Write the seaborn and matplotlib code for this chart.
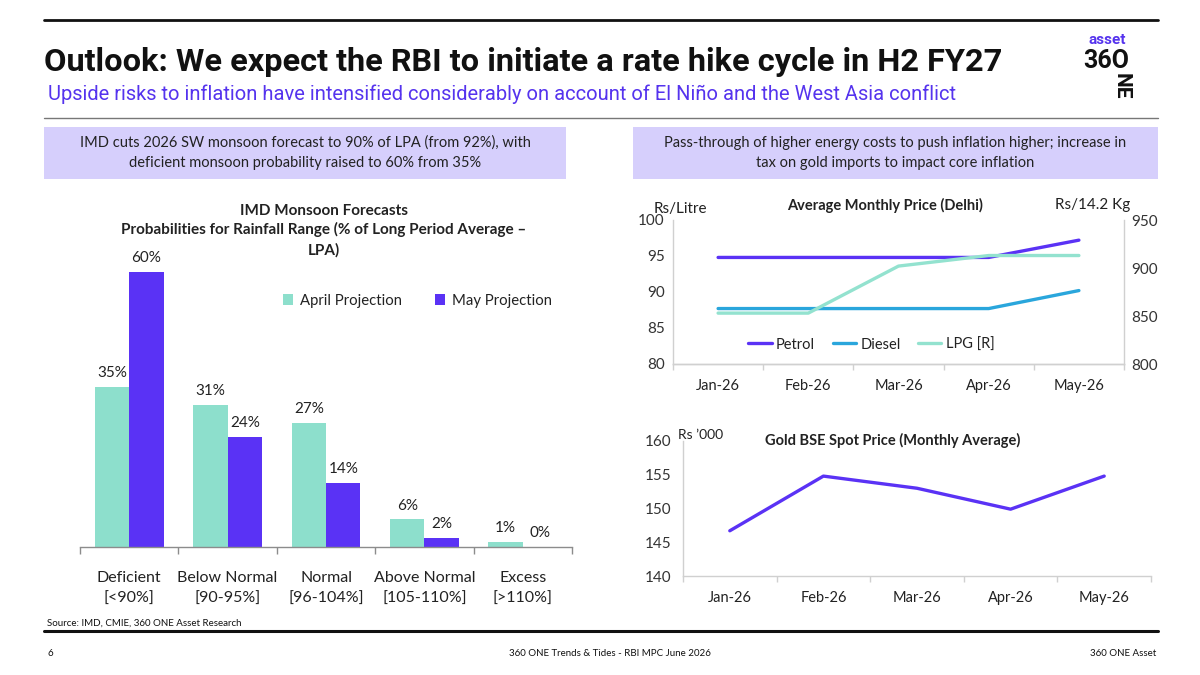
import matplotlib
matplotlib.use("Agg")
import matplotlib.pyplot as plt
from matplotlib.lines import Line2D
from matplotlib.patches import Rectangle, Patch
from matplotlib.ticker import FixedLocator, NullFormatter
import seaborn as sns
import pandas as pd

# ---------------- data ----------------
categories = ["Deficient\n[<90%]", "Below Normal\n[90-95%]", "Normal\n[96-104%]",
              "Above Normal\n[105-110%]", "Excess\n[>110%]"]
april_proj = [35, 31, 27, 6, 1]
may_proj = [60, 24, 14, 2, 0]

months = ["Jan-26", "Feb-26", "Mar-26", "Apr-26", "May-26"]
petrol = [94.8, 94.8, 94.8, 94.8, 97.2]
diesel = [87.7, 87.7, 87.7, 87.7, 90.2]
lpg = [853, 853, 902, 913, 913]
gold = [146.7, 154.8, 153.0, 149.9, 154.8]

# ---------------- style ----------------
sns.set_theme(style="white")
plt.rcParams["font.family"] = ["Lato", "DejaVu Sans"]

TEAL = "#8ddfcc"
PURPLE = "#5a32f5"
BLUE = "#2aa6dc"
MINT = "#93e2cf"
GRID = "#d0d0d0"
TXT = "#222222"
BOX = "#d6cffc"

W, H = 1200, 675
fig = plt.figure(figsize=(12, 6.75), dpi=100)
fig.patch.set_facecolor("white")


def fx(x):
    return x / W


def fy(y):
    return 1 - y / H


def ax_px(l, t, r, b):
    return fig.add_axes([l / W, 1 - b / H, (r - l) / W, (b - t) / H])


def hline(y, x0, x1, color, lw):
    fig.add_artist(Line2D([fx(x0), fx(x1)], [fy(y), fy(y)], color=color, lw=lw,
                          transform=fig.transFigure))


# ---------------- header ----------------
hline(20, 44, 1158, "#111111", 2.0)
fig.text(fx(44), fy(62), "Outlook: We expect the RBI to initiate a rate hike cycle in H2 FY27",
         fontsize=23.4, fontweight="bold", family=["Roboto", "DejaVu Sans"], color="#111111",
         va="center", ha="left")
fig.text(fx(48), fy(94), "Upside risks to inflation have intensified considerably on account of El Niño and the West Asia conflict",
         fontsize=14.5, family=["Roboto", "DejaVu Sans"], color="#5533ee", va="center", ha="left")
hline(118, 44, 1158, "#777777", 1.0)

# logo
fig.text(fx(1126), fy(40), "asset", fontsize=11, fontweight="bold", color="#5533ee",
         ha="right", va="center", family=["Roboto", "DejaVu Sans"])
fig.text(fx(1129), fy(61), "36O", fontsize=18, fontweight="bold", color="#111111",
         ha="right", va="center", family=["Roboto", "DejaVu Sans"])
fig.text(fx(1121), fy(86), "NE", fontsize=15, fontweight="bold", color="#111111",
         ha="center", va="center", rotation=-90, family=["Roboto", "DejaVu Sans"])

# boxes
for (l, r, txt) in [
    (44, 566, "IMD cuts 2026 SW monsoon forecast to 90% of LPA (from 92%), with\ndeficient monsoon probability raised to 60% from 35%"),
    (633, 1158, "Pass-through of higher energy costs to push inflation higher; increase in\ntax on gold imports to impact core inflation"),
]:
    fig.add_artist(Rectangle((fx(l), fy(179)), fx(r - l), (179 - 127) / H,
                             transform=fig.transFigure, facecolor=BOX, edgecolor="none"))
    fig.text(fx((l + r) / 2), fy(153), txt, ha="center", va="center", fontsize=10.5,
             color=TXT, linespacing=1.55)

# ---------------- bar chart ----------------
ax1 = ax_px(80, 249, 572, 547)
df_bar = pd.DataFrame({
    "category": categories * 2,
    "value": april_proj + may_proj,
    "projection": ["April Projection"] * len(categories) + ["May Projection"] * len(categories),
})
sns.barplot(data=df_bar, x="category", y="value", hue="projection",
            palette=[TEAL, PURPLE], width=0.7, gap=0, ax=ax1, legend=False,
            saturation=1, edgecolor="none")
for cont in ax1.containers:
    ax1.bar_label(cont, fmt="%d%%", padding=5, fontsize=11, color=TXT)
ax1.set_ylim(0, 65)
ax1.set_xlim(-0.5, len(categories) - 0.5)
ax1.set_xlabel("")
ax1.set_ylabel("")
ax1.set_yticks([])
for s in ["left", "right", "top"]:
    ax1.spines[s].set_visible(False)
ax1.spines["bottom"].set_color("#8c8c8c")
ax1.spines["bottom"].set_linewidth(1.0)
ax1.tick_params(axis="x", which="major", length=0, labelsize=11.5, labelcolor=TXT, pad=17)
ax1.xaxis.set_minor_locator(FixedLocator([i - 0.5 for i in range(len(categories) + 1)]))
ax1.xaxis.set_minor_formatter(NullFormatter())
ax1.tick_params(axis="x", which="minor", length=5, color="#8c8c8c", width=1, bottom=True)
for lbl in ax1.get_xticklabels():
    lbl.set_linespacing(1.65)
leg_handles = [Patch(facecolor=TEAL, edgecolor="none", label="April Projection"),
               Patch(facecolor=PURPLE, edgecolor="none", label="May Projection")]
ax1.legend(handles=leg_handles, loc="center left", bbox_to_anchor=(0.385, 0.826),
           ncol=2, frameon=False, fontsize=10.7, handlelength=0.7, handleheight=0.7,
           handletextpad=0.45, columnspacing=2.2, labelcolor=TXT)
fig.text(fx(324), fy(211), "IMD Monsoon Forecasts", ha="center", va="center",
         fontsize=11, fontweight="bold", color=TXT)
fig.text(fx(324), fy(229), "Probabilities for Rainfall Range (% of Long Period Average \u2013",
         ha="center", va="center", fontsize=11, fontweight="bold", color=TXT)
fig.text(fx(324), fy(250), "LPA)", ha="center", va="center", fontsize=11,
         fontweight="bold", color=TXT)

# ---------------- fuel price chart ----------------
ax2 = ax_px(673, 220, 1124, 364)
df_fuel = pd.DataFrame({
    "month": months * 2,
    "price": petrol + diesel,
    "fuel": ["Petrol"] * len(months) + ["Diesel"] * len(months),
})
sns.lineplot(data=df_fuel, x="month", y="price", hue="fuel", palette=[PURPLE, BLUE],
             linewidth=2.4, ax=ax2, legend=False, sort=False)
ax2b = ax2.twinx()
df_lpg = pd.DataFrame({"month": months, "price": lpg})
sns.lineplot(data=df_lpg, x="month", y="price", color=MINT, linewidth=2.4, ax=ax2b,
             legend=False, sort=False)
ax2.set_ylim(80, 100)
ax2.set_yticks([80, 85, 90, 95, 100])
ax2b.set_ylim(800, 950)
ax2b.set_yticks([800, 850, 900, 950])
ax2.set_xlim(-0.5, len(months) - 0.5)

for a in (ax2, ax2b):
    a.set_xlabel("")
    a.set_ylabel("")
    for s in a.spines.values():
        s.set_color(GRID)
        s.set_linewidth(1.0)
    a.spines["top"].set_visible(False)
ax2.spines["right"].set_visible(False)
ax2b.spines["left"].set_visible(False)
ax2.tick_params(axis="y", length=0, labelsize=11, labelcolor="#333333", pad=6)
ax2b.tick_params(axis="y", length=0, labelsize=11, labelcolor="#333333", pad=5)
ax2.tick_params(axis="x", which="major", length=0, labelsize=10.5, labelcolor=TXT, pad=11)
ax2.xaxis.set_minor_locator(FixedLocator([i - 0.5 for i in range(len(months) + 1)]))
ax2.xaxis.set_minor_formatter(NullFormatter())
ax2.tick_params(axis="x", which="minor", length=4, color=GRID, bottom=True)
fuel_handles = [Line2D([], [], color=PURPLE, lw=2.4, label="Petrol"),
                Line2D([], [], color=BLUE, lw=2.4, label="Diesel"),
                Line2D([], [], color=MINT, lw=2.4, label="LPG [R]")]
ax2.legend(handles=fuel_handles, loc="center", bbox_to_anchor=(0.44, 0.135), ncol=3,
           frameon=False, fontsize=10.5, handlelength=1.6, handletextpad=0.3,
           columnspacing=1.2, labelcolor=TXT)
fig.text(fx(885), fy(205), "Average Monthly Price (Delhi)", ha="center", va="center",
         fontsize=10.5, fontweight="bold", color=TXT)
fig.text(fx(654), fy(209), "Rs/Litre", ha="left", va="center", fontsize=11, color=TXT)
fig.text(fx(1130), fy(205), "Rs/14.2 Kg", ha="right", va="center", fontsize=11, color=TXT)

# ---------------- gold chart ----------------
ax3 = ax_px(683, 441, 1151, 576)
df_gold = pd.DataFrame({"month": months, "price": gold})
sns.lineplot(data=df_gold, x="month", y="price", color=PURPLE, linewidth=2.4, ax=ax3,
             legend=False, sort=False)
ax3.set_ylim(140, 160)
ax3.set_yticks([140, 145, 150, 155, 160])
ax3.set_xlim(-0.5, len(months) - 0.5)
ax3.set_xlabel("")
ax3.set_ylabel("")
for s in ["top", "right"]:
    ax3.spines[s].set_visible(False)
for s in ["left", "bottom"]:
    ax3.spines[s].set_color(GRID)
    ax3.spines[s].set_linewidth(1.0)
ax3.tick_params(axis="y", length=0, labelsize=11, labelcolor="#333333", pad=8)
ax3.tick_params(axis="x", which="major", length=0, labelsize=10.5, labelcolor=TXT, pad=11)
ax3.xaxis.set_minor_locator(FixedLocator([i - 0.5 for i in range(len(months) + 1)]))
ax3.xaxis.set_minor_formatter(NullFormatter())
ax3.tick_params(axis="x", which="minor", length=4, color=GRID, bottom=True)
fig.text(fx(893), fy(440), "Gold BSE Spot Price (Monthly Average)", ha="center", va="center",
         fontsize=10.5, fontweight="bold", color=TXT)
fig.text(fx(678), fy(435), "Rs \u2019000", ha="left", va="center", fontsize=10, color=TXT)

# ---------------- footer ----------------
fig.text(fx(47), fy(623), "Source: IMD, CMIE, 360 ONE Asset Research", fontsize=7,
         color="#111111", ha="left", va="center")
hline(631, 44, 1158, "#111111", 2.2)
fig.text(fx(47), fy(653), "6", fontsize=7, color="#111111", ha="left", va="center")
fig.text(fx(610), fy(653), "360 ONE Trends & Tides - RBI MPC June 2026", fontsize=7,
         color="#111111", ha="center", va="center")
fig.text(fx(1156), fy(653), "360 ONE Asset", fontsize=7, color="#111111", ha="right",
         va="center")

fig.savefig("out.png", dpi=100, facecolor="white")
